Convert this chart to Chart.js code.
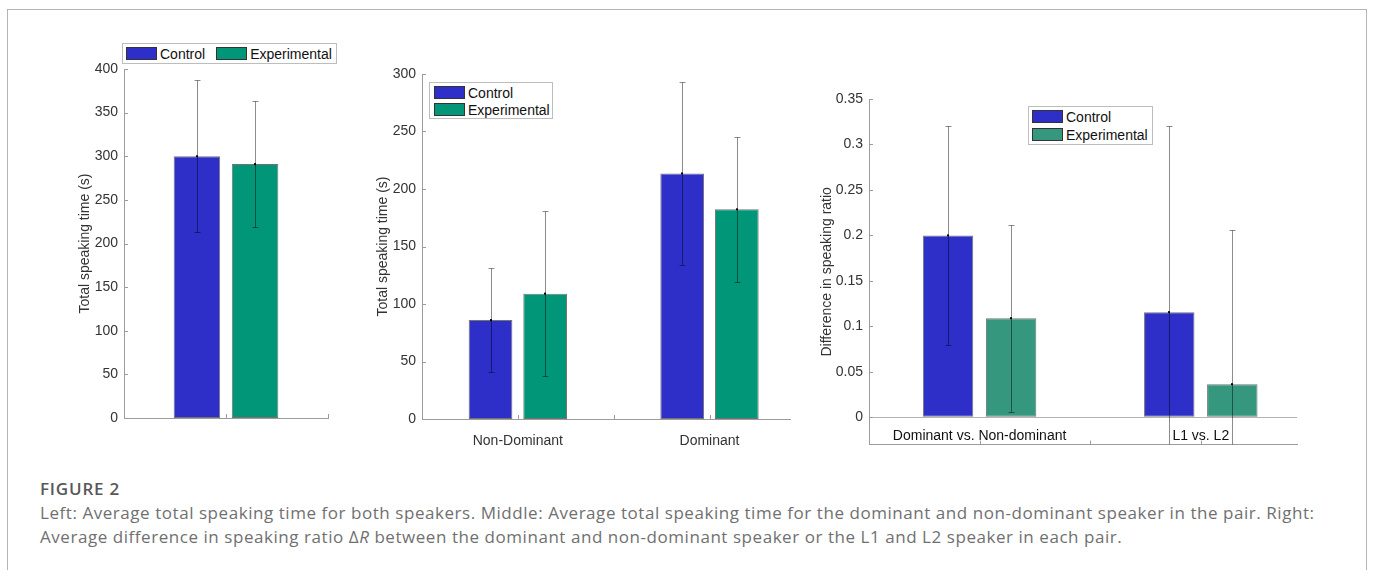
<!DOCTYPE html>
<html lang="en">
<head>
    <meta charset="UTF-8">
    <title>Figure 2 - Speaking time</title>
    <script src="https://cdn.jsdelivr.net/npm/chart.js@4.4.0/dist/chart.umd.min.js"></script>
    <style>
        html, body {
            margin: 0;
            padding: 0;
            background: #ffffff;
        }

        body {
            width: 1375px;
            height: 570px;
            position: relative;
            overflow: hidden;
            font-family: "Liberation Sans", Arial, sans-serif;
        }

        .frame {
            position: absolute;
            left: 7px;
            top: 9px;
            width: 1358px;
            height: 620px;
            border: 1px solid #b4b4b4;
            border-bottom: none;
        }

        .plot {
            position: absolute;
        }

        .legend {
            position: absolute;
            box-sizing: border-box;
            border: 1px solid #bdbdbd;
            background: #ffffff;
            font-size: 14px;
            color: #111111;
            display: flex;
        }

        .legend .item {
            display: flex;
            align-items: center;
            height: 13px;
        }

        .legend .swatch {
            display: inline-block;
            box-sizing: border-box;
            width: 31px;
            height: 13px;
            margin-right: 3px;
            border: 1px solid #333333;
        }

        .caption {
            position: absolute;
            left: 40px;
            font-family: "Open Sans", "Noto Sans", sans-serif;
        }

        .fig {
            top: 479px;
            font-size: 17px;
            line-height: 20px;
            font-weight: 600;
            letter-spacing: 0.8px;
            color: #585858;
        }

        .text {
            top: 501px;
            font-size: 17px;
            line-height: 24px;
            letter-spacing: 0.55px;
            color: #707070;
            white-space: nowrap;
        }
    </style>
</head>
<body>
<div class="frame"></div>

<canvas id="left" class="plot" width="280" height="400" style="left:60px; top:49px;"></canvas>
<canvas id="middle" class="plot" width="440" height="410" style="left:360px; top:54px;"></canvas>
<canvas id="right" class="plot" width="510" height="380" style="left:800px; top:79px;"></canvas>

<div id="legendLeft" class="legend" style="left:122px; top:43px; width:215px; height:21px; padding:3px 0 0 3px; gap:11px;"></div>
<div id="legendMiddle" class="legend" style="left:429px; top:82px; width:124px; height:37px; padding:3px 0 0 4px; flex-direction:column; gap:4px;"></div>
<div id="legendRight" class="legend" style="left:1028px; top:106px; width:125px; height:39px; padding:3px 0 0 3px; flex-direction:column; gap:5px;"></div>

<div class="caption fig">FIGURE 2</div>
<div class="caption text">Left: Average total speaking time for both speakers. Middle: Average total speaking time for the dominant and non-dominant speaker in the pair. Right:<br>Average difference in speaking ratio Δ<i>R</i> between the dominant and non-dominant speaker or the L1 and L2 speaker in each pair.</div>

<script>
    // ---- data ----
    var seriesNames = ['Control', 'Experimental'];

    // left: both speakers
    var leftX = [1];
    var leftControl = [300];
    var leftControlErr = [87];
    var leftExperimental = [291];
    var leftExperimentalErr = [72.5];
    var leftYTicks = [0, 50, 100, 150, 200, 250, 300, 350, 400];

    // middle: dominant / non-dominant speaker
    var middleCategories = ['Non-Dominant', 'Dominant'];
    var middleX = [1, 2];
    var middleControl = [86, 213.5];
    var middleControlErr = [45.5, 79.5];
    var middleExperimental = [109, 182.3];
    var middleExperimentalErr = [72, 63];
    var middleYTicks = [0, 50, 100, 150, 200, 250, 300];

    // right: difference in speaking ratio
    var rightCategories = ['Dominant vs. Non-dominant', 'L1 vs. L2'];
    var rightX = [1, 2];
    var rightControl = [0.2, 0.1156];
    var rightControlErr = [0.12, 0.205];
    var rightExperimental = [0.109, 0.0364];
    var rightExperimentalErr = [0.103, 0.17];
    var rightYTicks = [0, 0.05, 0.1, 0.15, 0.2, 0.25, 0.3, 0.35];
    var rightYTickLabels = ['0', '0.05', '0.1', '0.15', '0.2', '0.25', '0.3', '0.35'];

    var BLUE = '#2e2ec9';
    var TEAL = '#009677';
    var TEAL_SOFT = '#35977e';
    var AXIS = '#9c9c9c';

    Chart.defaults.font.family = '"Liberation Sans", Arial, sans-serif';
    Chart.defaults.font.size = 14;
    Chart.defaults.color = '#333333';

    function points(xs, ys) {
        return xs.map(function (x, i) {
            return {x: x, y: ys[i]};
        });
    }

    function barSet(label, xs, ys, errs, color) {
        return {
            label: label,
            data: points(xs, ys),
            errors: errs,
            backgroundColor: color,
            borderColor: 'rgba(0,0,0,0.55)',
            borderWidth: 1,
            borderSkipped: false,
            categoryPercentage: 0.57,
            barPercentage: 0.8
        };
    }

    // error bars with caps, clipped to the plot area
    var errorBarPlugin = {
        id: 'errorBars',
        afterDatasetsDraw: function (chart) {
            var ctx = chart.ctx;
            var area = chart.chartArea;
            var yScale = chart.scales.y;
            ctx.save();
            ctx.beginPath();
            ctx.rect(area.left, area.top, area.right - area.left, area.bottom - area.top);
            ctx.clip();
            chart.data.datasets.forEach(function (ds, di) {
                var meta = chart.getDatasetMeta(di);
                meta.data.forEach(function (bar, i) {
                    var v = ds.data[i].y;
                    var top = Math.round(yScale.getPixelForValue(v + ds.errors[i])) + 0.5;
                    var bottom = Math.round(yScale.getPixelForValue(v - ds.errors[i])) + 0.5;
                    var x = Math.round(bar.x) + 0.5;
                    ctx.strokeStyle = 'rgba(0,0,0,0.45)';
                    ctx.lineWidth = 1;
                    ctx.beginPath();
                    ctx.moveTo(x, top);
                    ctx.lineTo(x, bottom);
                    ctx.moveTo(x - 3, top);
                    ctx.lineTo(x + 3, top);
                    ctx.moveTo(x - 3, bottom);
                    ctx.lineTo(x + 3, bottom);
                    ctx.stroke();
                    ctx.fillStyle = '#000000';
                    ctx.fillRect(x - 1.5, bar.y - 1, 2, 2);
                });
            });
            ctx.restore();
        }
    };

    // matlab style inward tick marks
    var tickMarkPlugin = {
        id: 'tickMarks',
        afterDraw: function (chart, args, opts) {
            var ctx = chart.ctx;
            var area = chart.chartArea;
            ctx.save();
            ctx.strokeStyle = AXIS;
            ctx.lineWidth = 1;
            ctx.beginPath();
            (opts.y || []).forEach(function (v) {
                var y = Math.round(chart.scales.y.getPixelForValue(v)) + 0.5;
                ctx.moveTo(area.left, y);
                ctx.lineTo(area.left + 4, y);
            });
            (opts.x || []).forEach(function (v) {
                var x = Math.round(chart.scales.x.getPixelForValue(v)) + 0.5;
                ctx.moveTo(x, area.bottom);
                ctx.lineTo(x, area.bottom - 4);
            });
            ctx.stroke();
            ctx.restore();
        }
    };

    function makeChart(id, p) {
        return new Chart(document.getElementById(id), {
            type: 'bar',
            data: {datasets: p.datasets},
            plugins: [errorBarPlugin, tickMarkPlugin],
            options: {
                responsive: false,
                animation: false,
                devicePixelRatio: 1,
                layout: {padding: {top: 20, right: p.padRight, bottom: 0, left: 0}},
                plugins: {
                    legend: {display: false},
                    tooltip: {enabled: false},
                    tickMarks: {x: p.xMarks, y: p.yTicks}
                },
                scales: {
                    x: {
                        type: 'linear',
                        min: p.xMin,
                        max: p.xMax,
                        offset: false,
                        grid: {display: false, offset: false},
                        border: {display: true, color: AXIS, width: 1},
                        afterFit: function (s) { s.height = p.xHeight; },
                        afterBuildTicks: function (s) {
                            s.ticks = p.xTicks.map(function (v) { return {value: v}; });
                        },
                        ticks: {
                            display: !!p.categories,
                            padding: p.xLabelPad,
                            // mirror turns off the label clip, so the labels can sit
                            // above the axis line, inside the plot
                            mirror: !!p.labelsInside,
                            maxRotation: 0,
                            autoSkip: false,
                            color: p.xLabelColor,
                            callback: function (value, index) {
                                return p.categories ? p.categories[index] : '';
                            }
                        }
                    },
                    y: {
                        min: p.yMin,
                        max: p.yMax,
                        afterFit: function (s) { s.width = p.yWidth; },
                        afterBuildTicks: function (s) {
                            s.ticks = p.yTicks.map(function (v) { return {value: v}; });
                        },
                        grid: {
                            display: !!p.zeroLine,
                            drawTicks: false,
                            color: function (c) {
                                return c.tick && c.tick.value === 0 ? '#b3b3b3' : 'rgba(0,0,0,0)';
                            }
                        },
                        border: {display: true, color: AXIS, width: 1},
                        ticks: {
                            padding: 6,
                            callback: function (value, index) {
                                return p.yLabels ? p.yLabels[index] : String(value);
                            }
                        },
                        title: {
                            display: true,
                            text: p.yTitle,
                            color: '#333333',
                            font: {size: 14},
                            padding: {top: p.titlePad, bottom: 0}
                        }
                    }
                }
            }
        });
    }

    function buildLegend(chart, id) {
        var box = document.getElementById(id);
        chart.data.datasets.forEach(function (ds) {
            var item = document.createElement('div');
            item.className = 'item';
            var sw = document.createElement('span');
            sw.className = 'swatch';
            sw.style.background = ds.backgroundColor;
            var txt = document.createElement('span');
            txt.textContent = ds.label;
            item.appendChild(sw);
            item.appendChild(txt);
            box.appendChild(item);
        });
    }

    var leftChart = makeChart('left', {
        datasets: [
            barSet(seriesNames[0], leftX, leftControl, leftControlErr, BLUE),
            barSet(seriesNames[1], leftX, leftExperimental, leftExperimentalErr, TEAL)
        ],
        xMin: 0.5, xMax: 1.5, xTicks: leftX, xMarks: [1, 1.5],
        yMin: 0, yMax: 400, yTicks: leftYTicks,
        yTitle: 'Total speaking time (s)',
        padRight: 12, yWidth: 64, xHeight: 31, titlePad: 16.6, xLabelPad: 6
    });

    var middleChart = makeChart('middle', {
        datasets: [
            barSet(seriesNames[0], middleX, middleControl, middleControlErr, BLUE),
            barSet(seriesNames[1], middleX, middleExperimental, middleExperimentalErr, TEAL)
        ],
        categories: middleCategories,
        xMin: 0.5, xMax: 2.42, xTicks: middleX, xMarks: [1, 1.5, 2],
        yMin: 0, yMax: 300, yTicks: middleYTicks,
        yTitle: 'Total speaking time (s)',
        padRight: 10, yWidth: 62, xHeight: 45, titlePad: 14.6, xLabelPad: 6,
        xLabelColor: '#333333'
    });

    var rightChart = makeChart('right', {
        datasets: [
            barSet(seriesNames[0], rightX, rightControl, rightControlErr, BLUE),
            barSet(seriesNames[1], rightX, rightExperimental, rightExperimentalErr, TEAL_SOFT)
        ],
        categories: rightCategories,
        labelsInside: true,
        xMin: 0.5, xMax: 2.435, xTicks: rightX, xMarks: [1, 1.5, 2],
        yMin: -0.03, yMax: 0.35, yTicks: rightYTicks, yLabels: rightYTickLabels,
        zeroLine: true,
        yTitle: 'Difference in speaking ratio',
        padRight: 13, yWidth: 69, xHeight: 11, titlePad: 18.6, xLabelPad: 0,
        xLabelColor: '#111111'
    });

    buildLegend(leftChart, 'legendLeft');
    buildLegend(middleChart, 'legendMiddle');
    buildLegend(rightChart, 'legendRight');
</script>
</body>
</html>
